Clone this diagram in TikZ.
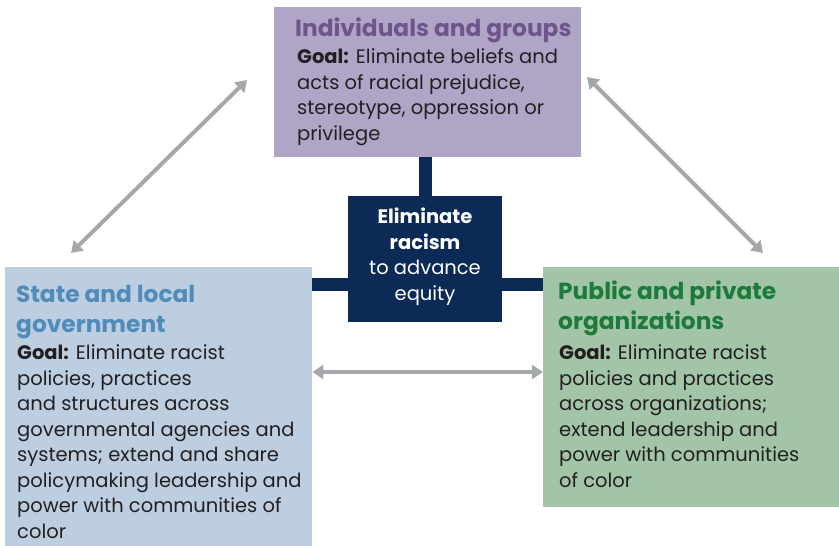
\documentclass[tikz,border=0pt]{standalone}
\usepackage{fontspec}
\setmainfont{Poppins}
\usetikzlibrary{arrows.meta}

\definecolor{navy}{HTML}{0B2A55}
\definecolor{ink}{HTML}{231F20}
\definecolor{lilac}{HTML}{B1A5C7}
\definecolor{lilacdark}{HTML}{6E558C}
\definecolor{skyfill}{HTML}{BDCEE1}
\definecolor{skydark}{HTML}{508CB9}
\definecolor{sagefill}{HTML}{A2C5A8}
\definecolor{sagedark}{HTML}{1C7A3B}
\definecolor{arrowgray}{HTML}{A6A7AB}

\begin{document}
\begin{tikzpicture}[x=1pt,y=-1pt,
        panel/.style={inner sep=0pt,anchor=north west},
        heading/.style={anchor=base west,inner sep=0pt,align=left,font=\fontsize{23.3}{30}\selectfont\bfseries},
        goal/.style={anchor=base west,inner sep=0pt,align=left,text=ink,font=\fontsize{19.5}{25.5}\selectfont},
        bar/.style={draw=navy,line width=13pt},
        twoway/.style={draw=arrowgray,line width=4pt,{Triangle[width=14pt,length=11pt]}-{Triangle[width=14pt,length=11pt]}}]

    \useasboundingbox (0,0) rectangle (839,546);

    % boxes
    \node[panel,fill=lilac,minimum width=307pt,minimum height=150pt] (indiv) at (274,7) {};
    \node[panel,fill=skyfill,minimum width=307pt,minimum height=279pt] (state) at (5,267) {};
    \node[panel,fill=sagefill,minimum width=296pt,minimum height=240pt] (org) at (543,267) {};
    \node[panel,fill=navy,minimum width=154pt,minimum height=126pt] (core) at (348,196) {};

    % navy links
    \coordinate (hlink) at (425,284);
    \draw[bar] (core.north |- indiv.south) -- (core.north);
    \draw[bar] (state.east |- hlink) -- (core.west |- hlink);
    \draw[bar] (core.east |- hlink) -- (org.west |- hlink);

    % texts (placed by the baseline of their last line)
    \node[heading,text=lilacdark] (indivtitle) at (295,36) {Individuals and groups};
    \node[goal] (indivgoal) at (297,140) {\textbf{Goal:} Eliminate beliefs and\\
        acts of racial prejudice,\\
        stereotype, oppression or\\
        privilege};

    \node[heading,text=skydark] (statetitle) at (16,332) {State and local\\government};
    \node[goal] (stategoal) at (17,538) {\textbf{Goal:} Eliminate racist\\
        policies, practices\\
        and structures across\\
        governmental agencies and\\
        systems; extend and share\\
        policymaking leadership and\\
        power with communities of\\
        color};

    \node[heading,text=sagedark] (orgtitle) at (558,329) {Public and private\\organizations};
    \node[goal] (orggoal) at (559,487) {\textbf{Goal:} Eliminate racist\\
        policies and practices\\
        across organizations;\\
        extend leadership and\\
        power with communities\\
        of color};

    \node[anchor=base,inner sep=0pt,align=center,text=white,font=\fontsize{19.5}{25.5}\selectfont] (coretext) at (425,300)
        {\textbf{Eliminate}\\\textbf{racism}\\to advance\\equity};

    % gray arrows
    \coordinate (nwtip) at (247,80);
    \coordinate (swtip) at (71,253);
    \coordinate (netip) at (587,77);
    \coordinate (setip) at (763,253);
    \draw[twoway] (swtip) -- (nwtip);
    \draw[twoway] (netip) -- (setip);
    \draw[twoway] ([yshift=-105pt]state.north east) -- ([yshift=-105pt]org.north west);

\end{tikzpicture}
\end{document}
